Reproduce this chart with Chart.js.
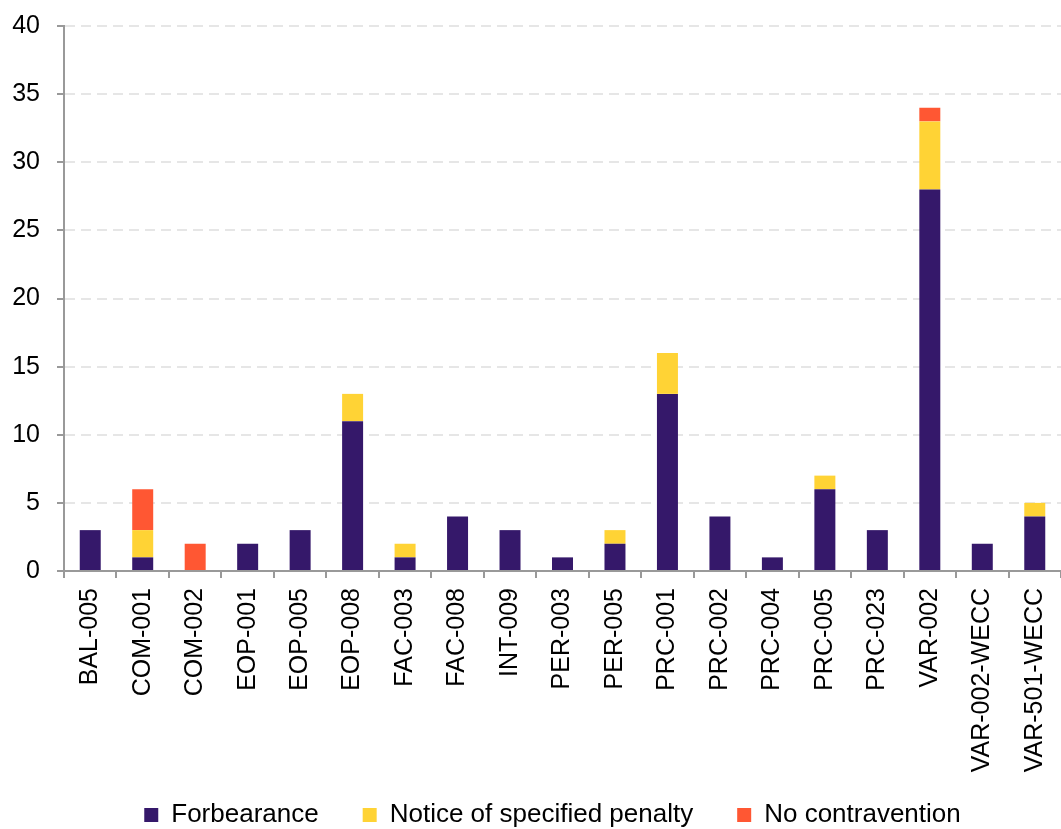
<!DOCTYPE html>
<html>
<head>
<meta charset="utf-8">
<script src="https://cdn.jsdelivr.net/npm/chart.js@4/dist/chart.umd.min.js"></script>
<style>
    body { margin: 0; background: #fff; }
    #wrap { width: 1061px; height: 829px; }
</style>
</head>
<body>
<div id="wrap"><canvas id="myChart"></canvas></div>
<script>
var categories = ['BAL-005', 'COM-001', 'COM-002', 'EOP-001', 'EOP-005', 'EOP-008', 'FAC-003', 'FAC-008', 'INT-009', 'PER-003',
    'PER-005', 'PRC-001', 'PRC-002', 'PRC-004', 'PRC-005', 'PRC-023', 'VAR-002', 'VAR-002-WECC', 'VAR-501-WECC'];
var forbearance = [3, 1, 0, 2, 3, 11, 1, 4, 3, 1, 2, 13, 4, 1, 6, 3, 28, 2, 4];
var noticePenalty = [0, 2, 0, 0, 0, 2, 1, 0, 0, 0, 1, 3, 0, 0, 1, 0, 5, 0, 1];
var noContravention = [0, 3, 2, 0, 0, 0, 0, 0, 0, 0, 0, 0, 0, 0, 0, 0, 1, 0, 0];
var yTicks = [0, 5, 10, 15, 20, 25, 30, 35, 40];

Chart.defaults.font.family = '"Liberation Sans", Arial, sans-serif';
Chart.defaults.color = '#000';

// legend: small box in the layout, then moved up/right so it sits under the long x labels
var legendPlace = {
    id: 'legendPlace',
    beforeInit: function (chart) {
        var fit = chart.legend.fit;
        chart.legend.fit = function () {
            fit.bind(chart.legend)();
            this.height = 32;
        };
    },
    afterLayout: function (chart) {
        var lg = chart.legend;
        lg.top = chart.height - 71;
        lg.left += 22;
        lg.right += 22;
    }
};

var ctx = document.getElementById('myChart').getContext('2d');
var myChart = new Chart(ctx, {
    type: 'bar',
    data: {
        labels: categories,
        datasets: [{
            label: 'Forbearance',
            data: forbearance,
            backgroundColor: '#35186a'
        }, {
            label: 'Notice of specified penalty',
            data: noticePenalty,
            backgroundColor: '#ffd335'
        }, {
            label: 'No contravention',
            data: noContravention,
            backgroundColor: '#ff5733'
        }]
    },
    options: {
        responsive: true,
        maintainAspectRatio: false,
        animation: false,
        datasets: {
            bar: { barPercentage: 0.4, categoryPercentage: 1 }
        },
        layout: { padding: { top: 26, right: 0, left: 0, bottom: 0 } },
        plugins: {
            tooltip: { enabled: false },
            legend: {
                position: 'bottom',
                labels: {
                    font: { size: 26 },
                    boxWidth: 14,
                    boxHeight: 14,
                    padding: 44
                }
            }
        },
        scales: {
            x: {
                stacked: true,
                border: { color: '#999', width: 2 },
                grid: { drawOnChartArea: false, tickLength: 7, color: '#999', lineWidth: 2 },
                ticks: {
                    font: { size: 25 },
                    minRotation: 90,
                    maxRotation: 90,
                    padding: 10,
                    autoSkip: false
                },
                afterFit: function (scale) {
                    scale.height = 226;
                    scale.paddingLeft = 0;
                    scale.paddingRight = 0;
                }
            },
            y: {
                stacked: true,
                min: 0,
                max: 40,
                afterBuildTicks: function (axis) {
                    axis.ticks = yTicks.map(function (v) { return { value: v }; });
                },
                afterFit: function (scale) {
                    scale.width = 64;
                    scale.paddingTop = 0;
                    scale.paddingBottom = 0;
                },
                border: { color: '#999', width: 2, dash: [10, 6] },
                grid: {
                    color: '#e6e6e6',
                    lineWidth: 2,
                    tickLength: 7,
                    tickColor: '#999',
                    tickBorderDash: []
                },
                ticks: {
                    font: { size: 25 },
                    padding: 17
                }
            }
        }
    },
    plugins: [legendPlace]
});
</script>
</body>
</html>
